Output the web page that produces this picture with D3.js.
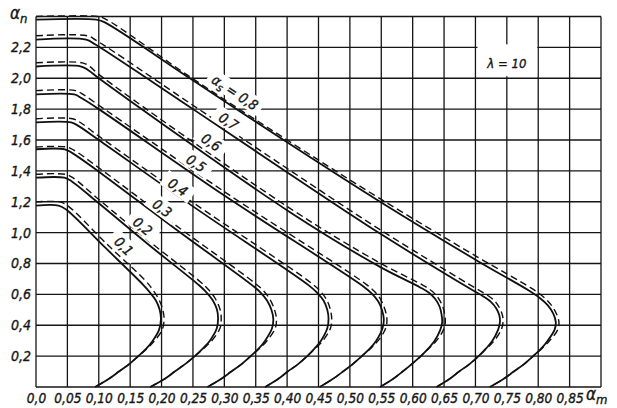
<!DOCTYPE html>
<html><head><meta charset="utf-8">
<script src="https://cdn.jsdelivr.net/npm/d3@7"></script>
<style>
body{margin:0;background:#fff;}
svg text{font-family:"DejaVu Sans Condensed","DejaVu Sans",sans-serif;font-style:italic;fill:#161616;stroke:#161616;stroke-width:0.35px;}
</style></head><body>
<svg id="c" width="617" height="408"></svg>
<script>
// ---- data ----
const xTicks = [0,0.05,0.10,0.15,0.20,0.25,0.30,0.35,0.40,0.45,0.50,0.55,0.60,0.65,0.70,0.75,0.80,0.85];
const xGrid = [0,0.05,0.10,0.15,0.20,0.25,0.30,0.35,0.40,0.45,0.50,0.55,0.60,0.65,0.70,0.75,0.80,0.85,0.90];
const yTicks = [0.2,0.4,0.6,0.8,1.0,1.2,1.4,1.6,1.8,2.0,2.2];
const yGrid = [0,0.2,0.4,0.6,0.8,1.0,1.2,1.4,1.6,1.8,2.0,2.2,2.4];
const alphaS = ["0,1","0,2","0,3","0,4","0,5","0,6","0,7","0,8"];
const lambdaLabel = "λ = 10";

const solid01 = [[0,1.175],[0.036,1.175],[0.048,1.150],[0.110,0.904],[0.170,0.665],[0.181,0.615],[0.191,0.56],[0.197,0.50],[0.199,0.44],[0.196,0.37],[0.186,0.30],[0.176,0.25],[0.163,0.20],[0.149,0.15],[0.132,0.10],[0.115,0.05],[0.094,0]];
const solid02 = [[0,1.356],[0.045,1.356],[0.056,1.335],[0.10,1.19],[0.18,0.92],[0.258,0.665],[0.270,0.62],[0.281,0.565],[0.288,0.505],[0.290,0.45],[0.288,0.38],[0.277,0.30],[0.266,0.25],[0.253,0.20],[0.238,0.15],[0.221,0.10],[0.204,0.05],[0.182,0]];
const solid03 = [[0,1.54],[0.046,1.54],[0.058,1.515],[0.10,1.395],[0.22,1.03],[0.344,0.66],[0.357,0.615],[0.368,0.56],[0.375,0.50],[0.378,0.44],[0.376,0.38],[0.365,0.30],[0.355,0.25],[0.342,0.20],[0.328,0.15],[0.311,0.10],[0.294,0.05],[0.273,0]];
const solid04 = [[0,1.714],[0.056,1.714],[0.068,1.69],[0.10,1.60],[0.25,1.17],[0.434,0.66],[0.448,0.61],[0.458,0.56],[0.464,0.50],[0.466,0.44],[0.464,0.38],[0.454,0.30],[0.444,0.25],[0.432,0.20],[0.418,0.15],[0.401,0.10],[0.385,0.05],[0.365,0]];
const solid05 = [[0,1.895],[0.061,1.895],[0.073,1.87],[0.10,1.80],[0.30,1.24],[0.522,0.65],[0.535,0.605],[0.545,0.555],[0.551,0.50],[0.554,0.44],[0.552,0.38],[0.542,0.30],[0.532,0.25],[0.519,0.20],[0.505,0.15],[0.489,0.10],[0.472,0.05],[0.452,0]];
const solid06 = [[0,2.076],[0.072,2.076],[0.084,2.05],[0.10,2.0],[0.404,1.134],[0.548,0.778],[0.612,0.645],[0.626,0.61],[0.636,0.57],[0.643,0.52],[0.646,0.47],[0.647,0.42],[0.644,0.37],[0.635,0.30],[0.625,0.25],[0.613,0.20],[0.599,0.15],[0.584,0.10],[0.568,0.05],[0.548,0]];
const solid07 = [[0,2.25],[0.080,2.25],[0.094,2.22],[0.25,1.80],[0.404,1.38],[0.548,0.994],[0.695,0.628],[0.712,0.588],[0.725,0.55],[0.733,0.51],[0.738,0.465],[0.739,0.42],[0.736,0.37],[0.727,0.30],[0.717,0.25],[0.705,0.20],[0.691,0.15],[0.674,0.10],[0.658,0.05],[0.638,0]];
const solid08 = [[0,2.38],[0.096,2.38],[0.108,2.365],[0.245,2.0],[0.40,1.585],[0.548,1.20],[0.702,0.82],[0.785,0.625],[0.803,0.575],[0.815,0.53],[0.824,0.475],[0.828,0.42],[0.826,0.37],[0.815,0.30],[0.805,0.25],[0.792,0.20],[0.778,0.15],[0.761,0.10],[0.744,0.05],[0.723,0]];

const dashed01 = [[0,1.199],[0.038,1.199],[0.050,1.176],[0.112,0.929],[0.174,0.69],[0.186,0.63],[0.196,0.565],[0.202,0.50],[0.204,0.44],[0.201,0.37],[0.189,0.30],[0.177,0.25],[0.163,0.20],[0.149,0.15],[0.132,0.10],[0.115,0.05],[0.094,0]];
const dashed02 = [[0,1.378],[0.047,1.378],[0.058,1.358],[0.10,1.215],[0.18,0.945],[0.262,0.68],[0.275,0.63],[0.286,0.57],[0.293,0.505],[0.295,0.45],[0.293,0.38],[0.280,0.30],[0.267,0.25],[0.253,0.20],[0.238,0.15],[0.221,0.10],[0.204,0.05],[0.182,0]];
const dashed03 = [[0,1.555],[0.048,1.555],[0.060,1.535],[0.10,1.42],[0.22,1.055],[0.348,0.675],[0.362,0.625],[0.373,0.565],[0.380,0.50],[0.383,0.44],[0.381,0.38],[0.368,0.30],[0.356,0.25],[0.342,0.20],[0.328,0.15],[0.311,0.10],[0.294,0.05],[0.273,0]];
const dashed04 = [[0,1.738],[0.058,1.738],[0.070,1.715],[0.10,1.625],[0.25,1.195],[0.438,0.675],[0.453,0.62],[0.463,0.565],[0.469,0.50],[0.471,0.44],[0.469,0.38],[0.457,0.30],[0.445,0.25],[0.432,0.20],[0.418,0.15],[0.401,0.10],[0.385,0.05],[0.365,0]];
const dashed05 = [[0,1.92],[0.063,1.92],[0.075,1.895],[0.10,1.825],[0.30,1.265],[0.526,0.665],[0.540,0.615],[0.550,0.56],[0.556,0.50],[0.559,0.44],[0.557,0.38],[0.545,0.30],[0.533,0.25],[0.519,0.20],[0.505,0.15],[0.489,0.10],[0.472,0.05],[0.452,0]];
const dashed06 = [[0,2.10],[0.074,2.10],[0.086,2.075],[0.10,2.025],[0.404,1.159],[0.548,0.803],[0.616,0.66],[0.631,0.62],[0.641,0.575],[0.648,0.52],[0.651,0.47],[0.652,0.42],[0.649,0.37],[0.638,0.30],[0.626,0.25],[0.613,0.20],[0.599,0.15],[0.584,0.10],[0.568,0.05],[0.548,0]];
const dashed07 = [[0,2.275],[0.082,2.275],[0.096,2.245],[0.25,1.825],[0.404,1.405],[0.548,1.019],[0.699,0.643],[0.717,0.60],[0.730,0.56],[0.738,0.515],[0.743,0.465],[0.744,0.42],[0.741,0.37],[0.730,0.30],[0.718,0.25],[0.705,0.20],[0.691,0.15],[0.674,0.10],[0.658,0.05],[0.638,0]];
const dashed08 = [[0,2.40],[0.098,2.40],[0.110,2.385],[0.245,2.01],[0.40,1.60],[0.548,1.22],[0.702,0.845],[0.789,0.64],[0.808,0.585],[0.820,0.535],[0.829,0.475],[0.833,0.42],[0.831,0.37],[0.818,0.30],[0.806,0.25],[0.792,0.20],[0.778,0.15],[0.761,0.10],[0.744,0.05],[0.723,0]];

// label centres (data units) for the αs labels
const labelPos = [[0.140,0.912],[0.170,1.041],[0.201,1.158],[0.226,1.294],[0.255,1.449],[0.279,1.585],[0.307,1.721],[0.317,1.908]];

// ---- drawing ----
const solids = [solid01,solid02,solid03,solid04,solid05,solid06,solid07,solid08];
const dasheds = [dashed01,dashed02,dashed03,dashed04,dashed05,dashed06,dashed07,dashed08];

const svg = d3.select("#c");
const x = d3.scaleLinear().domain([0,0.9]).range([36,601]);
const y = d3.scaleLinear().domain([0,2.4]).range([387,16.5]);
const fmtX = d => d === 0 ? "0,0" : d.toFixed(2).replace(".", ",");
const fmtY = d => d.toFixed(1).replace(".", ",");

// grid
const grid = svg.append("g");
grid.selectAll("line.v").data(xGrid).join("line")
  .attr("x1", d => x(d)).attr("x2", d => x(d))
  .attr("y1", y(0)).attr("y2", y(2.4))
  .attr("stroke", "#151515").attr("stroke-width", 1.3);
grid.selectAll("line.h").data(yGrid).join("line")
  .attr("x1", x(0)).attr("x2", x(0.9))
  .attr("y1", d => y(d)).attr("y2", d => y(d))
  .attr("stroke", "#151515").attr("stroke-width", 1.3);

// axes (labels only)
const ax = svg.append("g").attr("transform", `translate(0,${y(0)})`)
  .call(d3.axisBottom(x).tickValues(xTicks).tickFormat(fmtX).tickSize(0).tickPadding(6));
ax.select(".domain").remove();
ax.selectAll("text").attr("font-size", 13.5).attr("font-family", null).attr("fill", null);
const ay = svg.append("g").attr("transform", `translate(${x(0) - 3},0)`)
  .call(d3.axisLeft(y).tickValues(yTicks).tickFormat(fmtY).tickSize(0).tickPadding(2));
ay.select(".domain").remove();
ay.selectAll("text").attr("font-size", 14).attr("font-family", null).attr("fill", null);

// axis titles
const tn = svg.append("text").attr("x", 10).attr("y", 19).attr("font-size", 17);
tn.append("tspan").text("α");
tn.append("tspan").attr("dy", 4).attr("font-size", 13).text("n");
const tm = svg.append("text").attr("x", 586).attr("y", 400).attr("font-size", 17);
tm.append("tspan").text("α");
tm.append("tspan").attr("dy", 4).attr("font-size", 13).text("m");

// lambda box
svg.append("rect").attr("x", x(0.70) + 2).attr("y", y(2.2) - 3).attr("width", x(0.80) - x(0.70) - 3)
  .attr("height", y(2.0) - y(2.2) + 1).attr("fill", "#fff");
svg.append("text").attr("x", (x(0.70) + x(0.80)) / 2).attr("y", y(2.1) + 5).attr("text-anchor", "middle")
  .attr("font-size", 13).text(lambdaLabel);

// slope of a curve at a given x (for label rotation)
function slopeAt(pts, xv) {
  for (let i = 2; i < pts.length - 1; i++) {
    const a = pts[i-1], b = pts[i];
    if (xv >= a[0] && xv <= b[0]) {
      return Math.atan2(y(b[1]) - y(a[1]), x(b[0]) - x(a[0])) * 180 / Math.PI;
    }
  }
  return 35;
}
const labelG = svg.append("g");
const labelInfo = alphaS.map((s, i) => ({s, i, px: x(labelPos[i][0]), py: y(labelPos[i][1]), ang: slopeAt(solids[i], labelPos[i][0])}));
labelInfo.forEach(d => {
  const g = labelG.append("g").attr("transform", `translate(${d.px},${d.py}) rotate(${d.ang})`);
  const w = d.i === 7 ? 50 : 22;
  g.append("rect").attr("x", -w/2 - 6).attr("y", -9).attr("width", w + 12).attr("height", 17).attr("fill", "#fff");
});

// curves
const line = d3.line().x(d => x(d[0])).y(d => y(d[1])).curve(d3.curveCatmullRom.alpha(0.5));
svg.append("g").selectAll("path").data(dasheds).join("path")
  .attr("d", line).attr("fill", "none").attr("stroke", "#111").attr("stroke-width", 1.4)
  .attr("stroke-dasharray", "7,4");
svg.append("g").selectAll("path").data(solids).join("path")
  .attr("d", line).attr("fill", "none").attr("stroke", "#111").attr("stroke-width", 1.8);

// label text
labelInfo.forEach(d => {
  const g = labelG.append("g").attr("transform", `translate(${d.px},${d.py}) rotate(${d.ang})`);
  const t = g.append("text").attr("text-anchor", "middle").attr("font-size", 14).attr("y", 5);
  if (d.i === 7) {
    t.append("tspan").text("α");
    t.append("tspan").attr("dy", 3).attr("font-size", 11).text("s");
    t.append("tspan").attr("dy", -3).text(" = " + d.s);
  } else {
    t.text(d.s);
  }
});
labelG.raise();
</script>
</body></html>
